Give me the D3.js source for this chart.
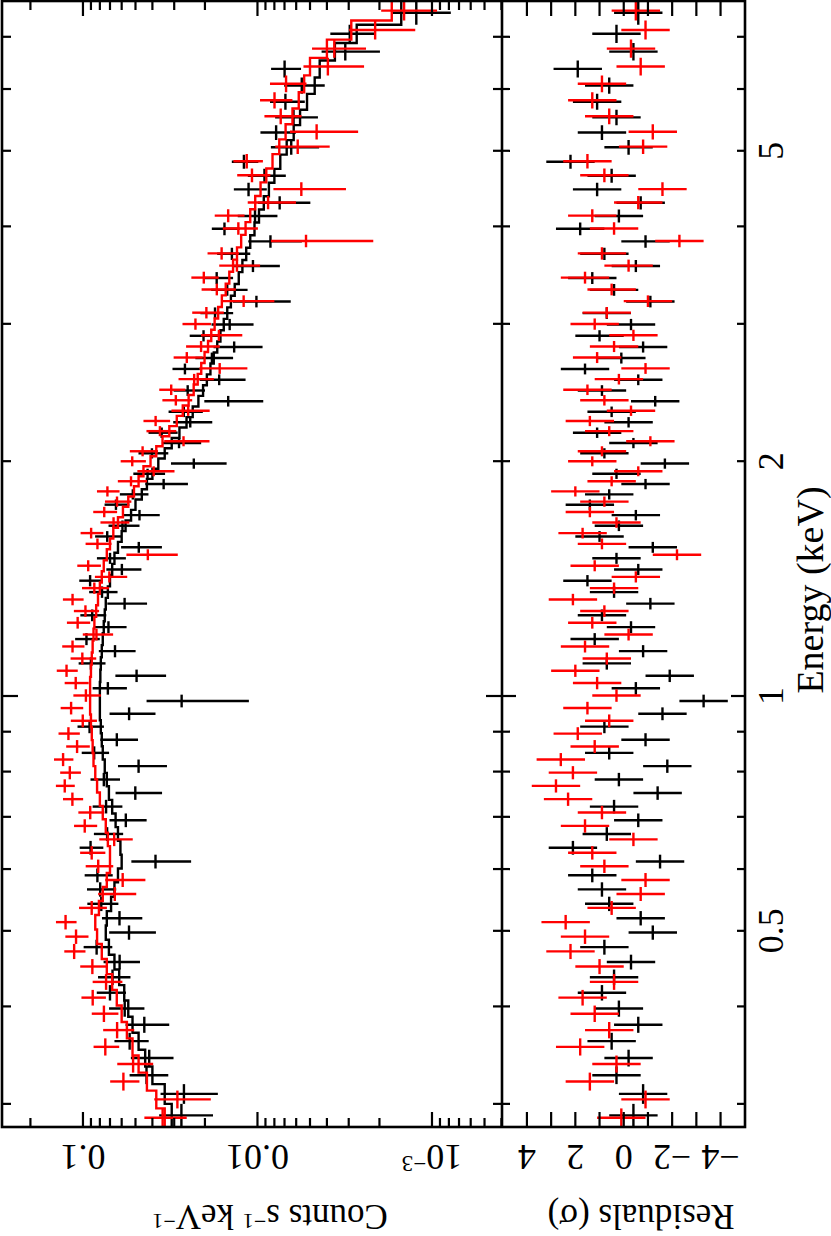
<!DOCTYPE html>
<html><head><meta charset="utf-8">
<script src="https://cdn.jsdelivr.net/npm/d3@7"></script>
<style>body{margin:0;background:#fff}svg{display:block}</style></head>
<body><svg id="c" width="831" height="1236"></svg>
<script>
// ---- data (energy in keV, counts s^-1 keV^-1) ----
const blackEdges=[0.280,0.300,0.318,0.335,0.352,0.370,0.388,0.407,0.426,0.446,0.466,0.487,0.508,0.530,0.553,0.577,0.601,0.626,0.652,0.679,0.707,0.736,0.766,0.797,0.829,0.862,0.896,0.931,0.967,1.004,1.042,1.081,1.121,1.162,1.204,1.247,1.291,1.336,1.382,1.429,1.477,1.526,1.576,1.627,1.679,1.732,1.786,1.841,1.898,1.956,2.016,2.078,2.142,2.209,2.278,2.350,2.425,2.503,2.584,2.668,2.756,2.848,2.944,3.044,3.149,3.259,3.374,3.495,3.622,3.756,3.897,4.046,4.204,4.372,4.550,4.740,4.943,5.160,5.393,5.644,5.915,6.208,6.526,6.873,7.252,7.780];
const blackModel=[0.031,0.034,0.040,0.044,0.048,0.052,0.055,0.058,0.062,0.066,0.071,0.074,0.073,0.069,0.066,0.063,0.060,0.061,0.063,0.065,0.068,0.071,0.073,0.075,0.077,0.078,0.079,0.080,0.080,0.080,0.0795,0.079,0.078,0.077,0.076,0.075,0.074,0.072,0.070,0.068,0.066,0.063,0.060,0.057,0.053,0.050,0.046,0.043,0.040,0.037,0.034,0.031,0.028,0.0255,0.0235,0.0218,0.0205,0.0195,0.0186,0.0178,0.0170,0.0163,0.0156,0.0149,0.0142,0.0135,0.0128,0.0122,0.0116,0.0110,0.0104,0.0098,0.0092,0.0086,0.0080,0.0074,0.0068,0.0062,0.0057,0.0052,0.0047,0.0044,0.0036,0.0027,0.0015];
const blackErr=[0.3,0.28,0.27,0.26,0.25,0.24,0.24,0.23,0.23,0.22,0.22,0.22,0.22,0.23,0.23,0.24,0.24,0.23,0.22,0.21,0.21,0.21,0.2,0.2,0.2,0.2,0.2,0.2,0.2,0.2,0.2,0.2,0.2,0.2,0.2,0.2,0.2,0.2,0.2,0.2,0.2,0.2,0.21,0.21,0.21,0.21,0.21,0.22,0.22,0.22,0.23,0.23,0.24,0.24,0.25,0.25,0.25,0.25,0.25,0.25,0.25,0.25,0.25,0.25,0.26,0.26,0.26,0.26,0.26,0.26,0.27,0.27,0.27,0.28,0.28,0.28,0.29,0.29,0.3,0.3,0.31,0.31,0.32,0.32,0.3];
const blackResid=[-0.4,-0.8,0.3,-0.2,0.5,-0.6,0.2,0.9,0.4,-0.3,0.8,-1.2,-0.7,0.6,0.9,1.3,-1.5,2.1,0.7,-0.6,0.4,-1.4,0.2,-1.8,0.6,-0.9,0.8,-1.6,-3.3,-0.5,-1.9,0.7,-0.8,1.2,-0.3,0.9,-1.1,0.4,1.5,-0.6,0.3,-1.2,1.0,0.2,-0.5,1.4,0.6,-0.9,0.3,-1.7,0.8,-0.4,1.1,-0.2,0.5,-1.3,0.9,-0.6,1.6,0.1,-0.8,1.0,-0.3,0.7,-1.1,0.4,1.3,-0.5,0.8,-0.9,1.8,0.2,-0.7,1.1,0.5,2.2,-0.2,0.9,0.3,1.1,0.6,1.9,-0.4,0.3,-0.6];
const redEdges=[0.280,0.296,0.312,0.329,0.346,0.364,0.382,0.401,0.420,0.440,0.460,0.481,0.502,0.524,0.546,0.569,0.593,0.617,0.642,0.668,0.695,0.723,0.752,0.782,0.813,0.845,0.878,0.912,0.947,0.983,1.020,1.058,1.097,1.137,1.178,1.220,1.263,1.307,1.352,1.398,1.445,1.493,1.542,1.592,1.643,1.695,1.748,1.802,1.857,1.913,1.970,2.029,2.090,2.153,2.218,2.286,2.357,2.431,2.508,2.588,2.672,2.760,2.852,2.948,3.048,3.153,3.263,3.378,3.499,3.626,3.760,3.901,4.050,4.208,4.376,4.555,4.746,4.951,5.171,5.408,5.664,5.942,6.246,6.578,6.942,7.344,7.780];
const redModel=[0.034,0.038,0.043,0.048,0.052,0.056,0.060,0.064,0.068,0.073,0.078,0.083,0.085,0.081,0.077,0.073,0.070,0.070,0.072,0.074,0.077,0.080,0.083,0.085,0.087,0.088,0.089,0.090,0.091,0.091,0.091,0.090,0.089,0.088,0.087,0.086,0.084,0.082,0.080,0.078,0.076,0.073,0.070,0.067,0.063,0.059,0.055,0.051,0.048,0.045,0.041,0.038,0.035,0.032,0.029,0.0268,0.0248,0.0232,0.0220,0.0210,0.0201,0.0192,0.0184,0.0176,0.0168,0.0160,0.0152,0.0145,0.0138,0.0131,0.0124,0.0117,0.0110,0.0103,0.0096,0.0089,0.0082,0.0075,0.0069,0.0063,0.0058,0.0054,0.0050,0.0040,0.0029,0.0017];
const redErr=[0.28,0.27,0.26,0.25,0.24,0.23,0.22,0.22,0.21,0.21,0.2,0.2,0.2,0.2,0.21,0.21,0.21,0.21,0.2,0.2,0.2,0.19,0.19,0.19,0.19,0.19,0.19,0.19,0.19,0.19,0.19,0.19,0.19,0.19,0.19,0.19,0.19,0.19,0.19,0.19,0.19,0.19,0.2,0.2,0.2,0.2,0.2,0.21,0.21,0.21,0.21,0.22,0.22,0.22,0.23,0.23,0.23,0.23,0.24,0.24,0.24,0.24,0.24,0.24,0.24,0.25,0.25,0.25,0.25,0.25,0.25,0.25,0.26,0.26,0.26,0.26,0.27,0.27,0.28,0.28,0.29,0.3,0.3,0.31,0.3,0.3];
const redResid=[0.1,-0.9,1.4,0.3,1.8,0.6,1.2,1.7,0.4,1.0,2.2,1.6,2.4,0.5,-0.7,-0.9,0.8,1.3,-0.4,1.6,0.9,2.3,2.8,2.1,2.6,1.2,1.9,0.6,1.5,0.3,1.1,2.0,0.7,1.6,-0.2,1.3,0.8,2.1,0.4,-0.5,1.2,-2.2,0.9,1.7,0.3,1.4,0.8,2.0,0.5,-0.6,1.3,0.9,-1.1,0.6,1.4,-0.3,0.8,1.5,0.2,-0.9,1.1,0.4,-0.4,1.2,0.7,-1.0,0.5,1.6,-0.2,0.9,-2.3,0.4,1.3,-0.6,-1.6,0.8,1.5,-0.8,-1.2,0.6,1.3,0.9,-0.7,-0.3,-0.9,-0.5];
// ---- axis ticks ----
const energyTicks=[0.3,0.4,0.5,0.6,0.7,0.8,0.9,1,2,3,4,5,6,7];
const energyMajor=[1];
const energyLabels=[0.5,1,2,5];
const countMajor=[0.1,0.01,0.001];
const countMinor=[0.2,0.09,0.08,0.07,0.06,0.05,0.04,0.03,0.02,0.009,0.008,0.007,0.006,0.005,0.004,0.003,0.002,0.0009,0.0008,0.0007,0.0006,0.0005,0.0004];
const countLabels=[[0.1,"0.1",""],[0.01,"0.01",""],[0.001,"10","−3"]];
const residTicks=[-4,-3,-2,-1,0,1,2,3,4];
const residLabels=[[-4,"−4"],[-2,"−2"],[0,"0"],[2,"2"],[4,"4"]];

const FONT="'Liberation Serif','Times New Roman',serif";
const svg=d3.select('#c');
const g=svg.append('g').attr('transform','translate(0,1236) rotate(-90)');
const X0=109,X1=1235,Y0=2,YM=502,Y1=745;
const x=d3.scaleLog().domain([0.2802,7.78]).range([X0,X1]);
const y=d3.scaleLog().domain([3.97e-4,0.291]).range([YM,Y0]);
const yr=d3.scaleLinear().domain([-5.01,5.03]).range([Y1,YM]);

const defs=svg.append('defs');
defs.append('clipPath').attr('id','cm').append('rect').attr('x',X0).attr('y',Y0).attr('width',X1-X0).attr('height',YM-Y0);
defs.append('clipPath').attr('id','cr').append('rect').attr('x',X0).attr('y',YM).attr('width',X1-X0).attr('height',Y1-YM);

function bins(edges,model,err,resid){
  return model.map((m,i)=>{const lo=edges[i],hi=edges[i+1];const e=err[i]*m;return {lo,hi,c:(lo+hi)/2,m,e,d:m+resid[i]*e,r:resid[i]};});
}
const series=[{b:bins(redEdges,redModel,redErr,redResid),col:'#ff0000'},{b:bins(blackEdges,blackModel,blackErr,blackResid),col:'#000000'}];

const main=g.append('g').attr('clip-path','url(#cm)');
const res=g.append('g').attr('clip-path','url(#cr)');
const line=d3.line().x(d=>x(d[0])).y(d=>d[1]);
[series[1],series[0]].forEach(s=>{
  const gg=main.append('g').attr('stroke',s.col).attr('stroke-width',2.4).attr('fill','none');
  s.b.forEach(d=>{
    gg.append('line').attr('x1',x(d.lo)).attr('x2',x(d.hi)).attr('y1',y(d.d)).attr('y2',y(d.d));
    gg.append('line').attr('x1',x(d.c)).attr('x2',x(d.c)).attr('y1',y(Math.max(d.d-d.e,1e-5))).attr('y2',y(d.d+d.e));
  });
  const pts=[];s.b.forEach(d=>{pts.push([d.lo,y(d.m)]);pts.push([d.hi,y(d.m)]);});
  gg.append('path').attr('d',line(pts));
  const rg=res.append('g').attr('stroke',s.col).attr('stroke-width',2.4);
  s.b.forEach(d=>{
    rg.append('line').attr('x1',x(d.lo)).attr('x2',x(d.hi)).attr('y1',yr(d.r)).attr('y2',yr(d.r));
    rg.append('line').attr('x1',x(d.c)).attr('x2',x(d.c)).attr('y1',yr(d.r-1)).attr('y2',yr(d.r+1));
  });
});

// frame
const fr=g.append('g').attr('stroke','#000').attr('stroke-width',2.6).attr('fill','none');
fr.append('rect').attr('x',X0).attr('y',Y0).attr('width',X1-X0).attr('height',Y1-Y0);
fr.append('line').attr('x1',X0).attr('x2',X1).attr('y1',YM).attr('y2',YM);
const tk=g.append('g').attr('stroke','#000').attr('stroke-width',2.2);
energyTicks.forEach(v=>{
  const L=energyMajor.includes(v)?16:9, Lr=energyMajor.includes(v)?14:8, X=x(v);
  tk.append('line').attr('x1',X).attr('x2',X).attr('y1',Y0).attr('y2',Y0+L);
  tk.append('line').attr('x1',X).attr('x2',X).attr('y1',YM).attr('y2',YM-L);
  tk.append('line').attr('x1',X).attr('x2',X).attr('y1',YM).attr('y2',YM+Lr);
  tk.append('line').attr('x1',X).attr('x2',X).attr('y1',Y1).attr('y2',Y1-Lr);
});
countMajor.concat(countMinor).forEach(v=>{
  const L=countMajor.includes(v)?15:9, Y=y(v);
  tk.append('line').attr('x1',X0).attr('x2',X0+L).attr('y1',Y).attr('y2',Y);
  tk.append('line').attr('x1',X1).attr('x2',X1-L).attr('y1',Y).attr('y2',Y);
});
residTicks.forEach(v=>{
  const Y=yr(v);
  tk.append('line').attr('x1',X0).attr('x2',X0+15).attr('y1',Y).attr('y2',Y);
  tk.append('line').attr('x1',X1).attr('x2',X1-15).attr('y1',Y).attr('y2',Y);
});
// labels
const txt=g.append('g').attr('font-family',FONT).attr('fill','#000');
energyLabels.forEach(v=>{
  txt.append('text').attr('x',x(v)).attr('y',783).attr('text-anchor','middle').attr('font-size',36).text(v);
});
countLabels.forEach(([v,s,sup])=>{
  const t=txt.append('text').attr('transform',`translate(91,${y(v)}) rotate(-90)`).attr('text-anchor','middle').attr('font-size',36);
  t.append('tspan').text(s);
  if(sup) t.append('tspan').attr('dy',-11).attr('font-size',23).text(sup);
});
residLabels.forEach(([v,s])=>{
  txt.append('text').attr('transform',`translate(91,${yr(v)}) rotate(-90)`).attr('text-anchor','middle').attr('font-size',36).text(s);
});
const ct=txt.append('text').attr('transform','translate(31,270) rotate(-90)').attr('text-anchor','middle').attr('font-size',35);
ct.append('tspan').text('Counts s');
ct.append('tspan').attr('dy',-9).attr('font-size',22).text('−1');
ct.append('tspan').attr('dy',9).text(' keV');
ct.append('tspan').attr('dy',-9).attr('font-size',22).text('−1');
txt.append('text').attr('transform','translate(31,641) rotate(-90)').attr('text-anchor','middle').attr('font-size',35).text('Residuals (σ)');
txt.append('text').attr('x',1236-590).attr('y',823).attr('text-anchor','middle').attr('font-size',38).text('Energy (keV)');
</script></body></html>
